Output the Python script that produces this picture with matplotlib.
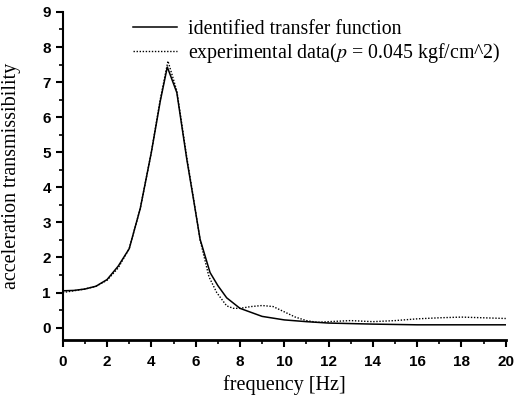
import numpy as np
import matplotlib.pyplot as plt
from matplotlib.ticker import MultipleLocator

# identified transfer function
f_tf = [0, 0.5, 1, 1.5, 2, 2.5, 3, 3.5, 4, 4.4, 4.72, 5.15, 5.6, 5.9, 6.2, 6.65, 7, 7.4, 8, 9, 10, 11, 12, 14, 16, 18, 20]
a_tf = [1.05, 1.06, 1.1, 1.18, 1.37, 1.75, 2.25, 3.4, 5.0, 6.45, 7.43, 6.7, 4.8, 3.67, 2.52, 1.57, 1.2, 0.85, 0.55, 0.32, 0.22, 0.17, 0.13, 0.1, 0.08, 0.08, 0.08]

# experimental data
f_ex = [0, 0.5, 1, 1.5, 2, 2.5, 3, 3.5, 4, 4.4, 4.75, 5.15, 5.6, 5.9, 6.2, 6.6, 6.95, 7.4, 7.7, 8, 8.5, 9, 9.5, 10, 10.5, 11, 11.5, 12, 13, 14, 15, 16, 17, 18, 19, 20]
a_ex = [1.0, 1.05, 1.1, 1.18, 1.35, 1.7, 2.25, 3.4, 5.0, 6.5, 7.6, 6.75, 4.85, 3.7, 2.5, 1.45, 1.0, 0.62, 0.55, 0.55, 0.6, 0.63, 0.6, 0.45, 0.3, 0.2, 0.15, 0.17, 0.2, 0.17, 0.2, 0.25, 0.28, 0.3, 0.28, 0.26]

fig = plt.figure(figsize=(5.23, 3.98), dpi=100)
ax = fig.add_axes([0.12, 0.146, 0.847, 0.824])

ax.plot(f_tf, a_tf, color="black", lw=1.1, label="identified transfer function")
ax.plot(f_ex, a_ex, color="black", lw=1.0, ls=(0, (1, 1.2)),
        label="experimental data($p$ = 0.045 kgf/cm^2)")

ax.set_xlim(0, 20)
ax.set_ylim(-0.35, 9)
ax.xaxis.set_major_locator(MultipleLocator(2))
ax.xaxis.set_minor_locator(MultipleLocator(1))
ax.yaxis.set_major_locator(MultipleLocator(1))
ax.yaxis.set_minor_locator(MultipleLocator(0.5))
ax.spines["top"].set_visible(False)
ax.spines["right"].set_visible(False)
ax.spines["bottom"].set_linewidth(2)
ax.spines["left"].set_linewidth(1.5)
ax.tick_params(which="major", length=5, width=1.5)
ax.tick_params(which="minor", length=3, width=1.2)
ax.tick_params(axis="x", pad=6)
for lab in ax.get_xticklabels() + ax.get_yticklabels():
    lab.set_fontfamily("Liberation Sans")
    lab.set_fontweight("bold")
    lab.set_fontsize(11)

ax.set_xlabel("frequency [Hz]", family="Liberation Serif", fontsize=14.5)
ax.set_ylabel("acceleration transmissibility", family="Liberation Serif", fontsize=14.5)
ax.yaxis.set_label_coords(-0.095, 0.5)

plt.rcParams["mathtext.fontset"] = "stix"
ax.legend(loc="upper left", bbox_to_anchor=(0.118, 1.03), frameon=False,
          prop={"family": "Liberation Serif", "size": 14.3},
          handlelength=2.2, handletextpad=0.55, labelspacing=0.1)

fig.savefig("out.png")
